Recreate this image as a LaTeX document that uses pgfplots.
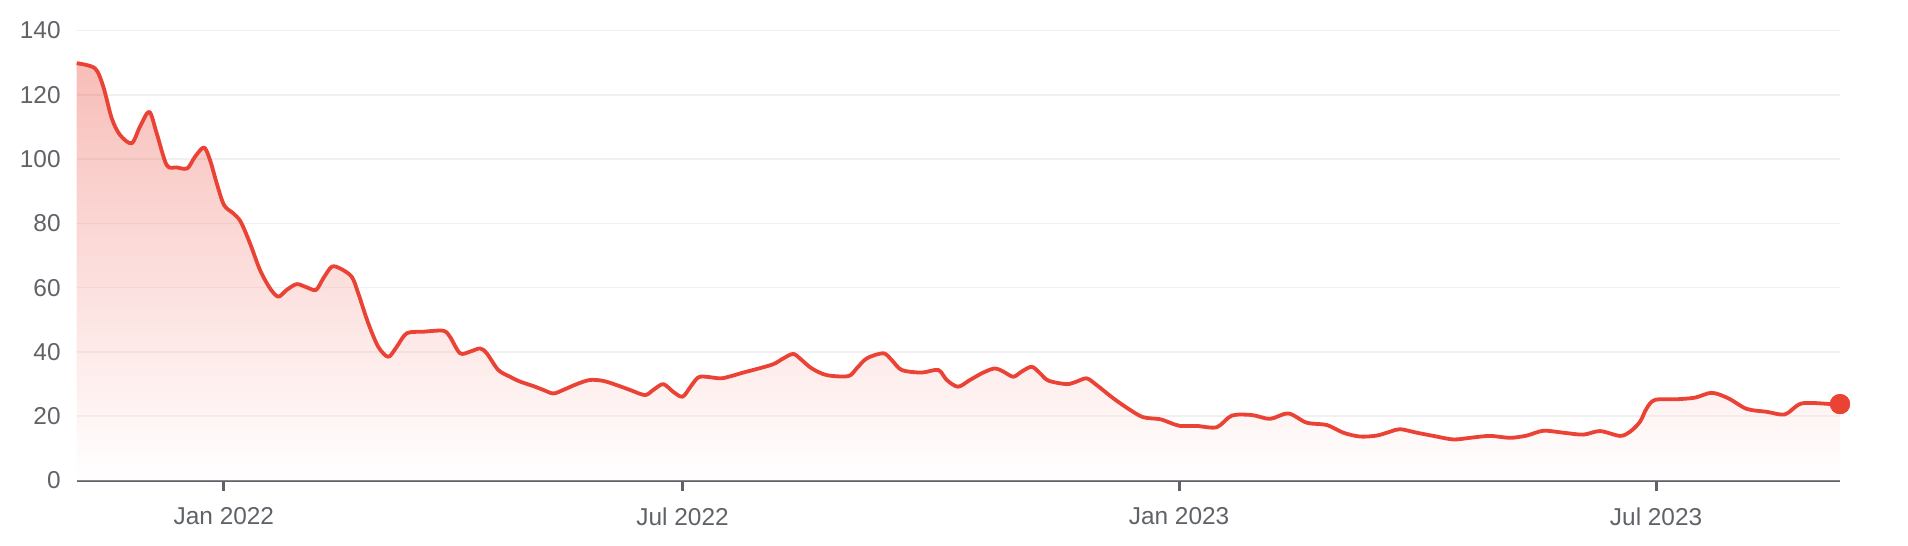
\documentclass[border=0pt]{standalone}
\usepackage{fontspec}
\setmainfont{Liberation Sans}
\usepackage{pgfplots}
\usepackage{pgfplotstable}
\pgfplotsset{compat=1.18}
\definecolor{linered}{HTML}{EA4335}
\definecolor{txtgray}{HTML}{5F6368}
\definecolor{gridgray}{HTML}{F0F0F0}
\pgfplotstableread{
x y
76.7 129.8
95 128.2
103.3 122.5
111.7 112.7
120 107.5
131.7 104.9
140 110.1
149.3 114.7
156.7 108.0
166.7 98.1
176.7 97.4
187.3 97.1
195 100.7
204 103.6
210 99.7
216.7 92.5
224 85.7
233.3 83.1
240.7 80.5
250 73.8
260 65.5
270 59.8
278.3 57.2
286.7 59.3
296.7 61.1
306.7 60.1
316 59.3
323.3 62.9
331.7 66.5
340 66.0
351.7 63.4
358.3 58.2
368.3 48.9
378.3 41.6
388.3 38.5
396.7 41.6
406.7 45.8
423.3 46.3
443.3 46.6
450 44.7
460 39.6
470 40.1
480 41.1
486.7 39.6
498.3 34.4
510 32.3
520 30.8
533.3 29.4
543.3 28.2
553.3 27.1
563.3 28.2
576.7 30.0
590 31.3
603.3 31.0
616.7 29.7
630 28.2
645 26.6
653.3 28.2
663.3 30.0
673.3 27.6
682.7 26.1
691.7 29.7
700 32.3
720 31.8
730 32.4
743.3 33.6
756.7 34.7
773.3 36.2
783.3 38.0
793.3 39.4
801.7 37.5
811.7 34.9
826.7 32.8
848.3 32.5
856.7 34.9
866.7 38.0
883.3 39.6
891.7 37.5
901.7 34.4
921.7 33.6
938.3 34.4
946.7 31.3
958 29.2
970 31.3
983.3 33.6
995 34.9
1003.3 33.9
1013.3 32.3
1021.7 33.9
1031.7 35.4
1040 33.4
1048.3 31.1
1066.7 30.0
1076.7 30.8
1086.7 31.8
1096.7 29.7
1113.3 25.6
1130 22.0
1143.3 19.7
1160 19.1
1170 18.0
1180 17.0
1196.7 17.0
1216.7 16.6
1231.7 20.2
1251.7 20.4
1270 19.2
1288.3 20.9
1306.7 18.0
1326.7 17.3
1343.3 14.9
1360 13.7
1376.7 14.0
1390 15.2
1400 16.0
1416.7 14.9
1433.3 13.9
1453.3 12.8
1470 13.3
1490 13.9
1510 13.3
1526.7 14.0
1543.3 15.5
1563.3 14.9
1583.3 14.3
1600 15.4
1620 13.9
1630 15.2
1640 18.3
1646.7 22.5
1655 25.1
1676.7 25.3
1695 25.8
1711.7 27.3
1728.3 25.6
1746.7 22.3
1766.7 21.4
1785 20.6
1801.7 24.0
1831.7 23.8
1840 23.8
}\datatable
\pgfplotstableread{
x y
1840 23.8
}\lastpoint
\begin{document}
\begin{tikzpicture}
\useasboundingbox (-38.35pt,-32.7pt) rectangle (915.65pt,240.3pt);
\begin{axis}[
  at={(0,0)}, anchor=south west,
  scale only axis,
  width=881.65pt, height=225.1pt,
  xmin=76.7, xmax=1840,
  ymin=0, ymax=140,
  ytick={0,20,40,60,80,100,120,140},
  xtick={223.9,682.6,1179.1,1656.1},
  xticklabels={Jan 2022,Jul 2022,Jan 2023,Jul 2023},
  axis lines*=left,
  axis line style={-},
  y axis line style={draw=none},
  x axis line style={draw=txtgray, line width=1pt},
  ymajorgrids,
  major grid style={draw=gridgray, line width=0.8pt},
  tick align=outside,
  xtick style={draw=txtgray, line width=1.5pt},
  major tick length=5pt,
  ytick style={draw=none},
  ticklabel style={font=\fontsize{12.2}{14}\selectfont, text=txtgray},
  /pgf/number format/assume math mode=true,
  yticklabel style={xshift=0.5pt},
  xticklabel style={yshift=-5pt},
  clip=false,
]
\addplot[draw=none, fill opacity=0.35, top color=linered, middle color=linered!35!white, bottom color=white, smooth, tension=0.5] table[x=x,y=y] {\datatable} \closedcycle;
\addplot[draw=linered, line width=1.9pt, smooth, tension=0.5, line join=round] table[x=x,y=y] {\datatable};
\addplot[only marks, mark=*, mark size=4.9pt, color=linered] table[x=x,y=y] {\lastpoint};
\end{axis}
\end{tikzpicture}
\end{document}
